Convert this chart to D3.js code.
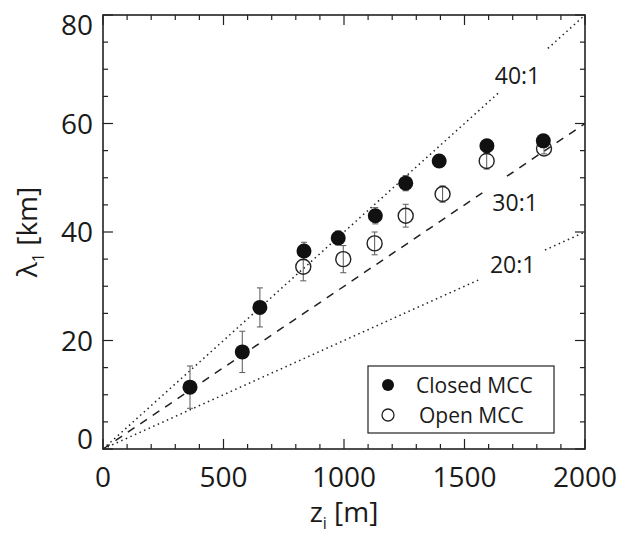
<!DOCTYPE html>
<html>
<head>
<meta charset="utf-8">
<script src="https://cdn.jsdelivr.net/npm/d3@7"></script>
<style>
  body { margin: 0; background: #fff; }
  svg text { font-family: "Open Sans", sans-serif; fill: #1a1a1a; }
</style>
</head>
<body>
<div id="chart"></div>
<script>
// closed MCC: boundary layer depth (m), wavelength (km), error (km)
var closedZ = [361, 578, 651, 834, 976, 1130, 1256, 1395, 1593, 1827];
var closedL = [11.4, 17.9, 26.1, 36.5, 38.9, 43.0, 49.0, 53.1, 55.9, 56.8];
var closedErr = [3.9, 3.8, 3.6, 1.6, 1.3, 1.5, 1.4, 1.0, 1.0, 1.0];

// open MCC
var openZ = [831, 997, 1127, 1256, 1409, 1592, 1830];
var openL = [33.6, 35.0, 37.9, 43.0, 47.0, 53.1, 55.4];
var openErr = [2.6, 2.5, 2.1, 2.1, 1.5, 1.5, 1.0];

// aspect ratio reference lines
var ratios = [40, 30, 20];
var ratioLabels = ["40:1", "30:1", "20:1"];

var xTicks = [0, 500, 1000, 1500, 2000];
var yTicks = [0, 20, 40, 60, 80];

var width = 625, height = 535;
var m = {left: 103, top: 15, right: 40, bottom: 86};

var svg = d3.select("#chart").append("svg")
  .attr("width", width)
  .attr("height", height);

var x = d3.scaleLinear().domain([0, 2000]).range([m.left, width - m.right]);
var y = d3.scaleLinear().domain([0, 80]).range([height - m.bottom, m.top]);

var ink = "#222";

// reference lines (broken where the label sits)
var lineStyle = [
  {dash: "1.5,3.5", gap: [1647, 1846], lab: [1720, 0]},
  {dash: "8,7", gap: [1574, 1676], lab: [1710, 32]},
  {dash: "1.5,3.5", gap: [1564, 1834], lab: [1700, 0]}
];
ratios.forEach(function(r, i) {
  var st = lineStyle[i];
  var segs = [[0, st.gap[0]], [st.gap[1], 2000]];
  segs.forEach(function(s) {
    svg.append("line")
      .attr("x1", x(s[0])).attr("y1", y(s[0] * r / 1000))
      .attr("x2", x(s[1])).attr("y2", y(s[1] * r / 1000))
      .attr("stroke", ink)
      .attr("stroke-width", 1.5)
      .attr("stroke-dasharray", st.dash);
  });
  svg.append("text")
    .attr("x", x(st.lab[0]))
    .attr("y", y(st.lab[0] * r / 1000) + st.lab[1])
    .attr("dy", "0.35em")
    .attr("text-anchor", "middle")
    .style("font-size", "23px")
    .text(ratioLabels[i]);
});

// error bars
function errorBars(zs, ls, es) {
  var g = svg.append("g").attr("stroke", "#666").attr("stroke-width", 1.1);
  zs.forEach(function(z, i) {
    var cx = x(z), y0 = y(ls[i] - es[i]), y1 = y(ls[i] + es[i]);
    g.append("line").attr("x1", cx).attr("x2", cx).attr("y1", y0).attr("y2", y1);
    g.append("line").attr("x1", cx - 3).attr("x2", cx + 3).attr("y1", y0).attr("y2", y0);
    g.append("line").attr("x1", cx - 3).attr("x2", cx + 3).attr("y1", y1).attr("y2", y1);
  });
}
errorBars(openZ, openL, openErr);
errorBars(closedZ, closedL, closedErr);

// markers
svg.selectAll(".open").data(openZ).enter().append("circle")
  .attr("class", "open")
  .attr("cx", function(d) { return x(d); })
  .attr("cy", function(d, i) { return y(openL[i]); })
  .attr("r", 7.5)
  .attr("fill", "none")
  .attr("stroke", ink)
  .attr("stroke-width", 1.4);

svg.selectAll(".closed").data(closedZ).enter().append("circle")
  .attr("class", "closed")
  .attr("cx", function(d) { return x(d); })
  .attr("cy", function(d, i) { return y(closedL[i]); })
  .attr("r", 7.5)
  .attr("fill", "#111");

// axes with inward ticks on all four sides
var xMinor = d3.range(0, 2001, 100);
var yMinor = d3.range(0, 81, 5);
var axG = svg.append("g").attr("stroke", ink).attr("stroke-width", 1.2);
xMinor.forEach(function(v) {
  var len = v % 500 === 0 ? 10 : 5;
  axG.append("line").attr("x1", x(v)).attr("x2", x(v)).attr("y1", y(0)).attr("y2", y(0) - len);
  axG.append("line").attr("x1", x(v)).attr("x2", x(v)).attr("y1", y(80)).attr("y2", y(80) + len);
});
yMinor.forEach(function(v) {
  var len = v % 20 === 0 ? 10 : 5;
  axG.append("line").attr("x1", x(0)).attr("x2", x(0) + len).attr("y1", y(v)).attr("y2", y(v));
  axG.append("line").attr("x1", x(2000)).attr("x2", x(2000) - len).attr("y1", y(v)).attr("y2", y(v));
});
svg.append("rect")
  .attr("x", x(0)).attr("y", y(80))
  .attr("width", x(2000) - x(0)).attr("height", y(0) - y(80))
  .attr("fill", "none").attr("stroke", ink).attr("stroke-width", 1.6);

svg.selectAll(".xl").data(xTicks).enter().append("text")
  .attr("x", function(d) { return x(d); })
  .attr("y", y(0) + 38)
  .attr("text-anchor", "middle")
  .style("font-size", "28px")
  .text(function(d) { return d; });

// end labels are pulled inside the axis range, as in the original
svg.selectAll(".yl").data(yTicks).enter().append("text")
  .attr("x", x(0) - 10)
  .attr("y", function(d) {
    var off = d === 80 ? 10 : (d === 0 ? -10 : 0);
    return y(d) + off;
  })
  .attr("dy", "0.36em")
  .attr("text-anchor", "end")
  .style("font-size", "28px")
  .text(function(d) { return d; });

// axis titles
var xt = svg.append("text")
  .attr("x", (x(0) + x(2000)) / 2)
  .attr("y", 522)
  .attr("text-anchor", "middle")
  .style("font-size", "28px");
xt.append("tspan").text("z");
xt.append("tspan").attr("dy", 7).style("font-size", "16px").text("i");
xt.append("tspan").attr("dy", -7).text(" [m]");

var yt = svg.append("text")
  .attr("transform", "translate(37," + ((y(0) + y(80)) / 2) + ") rotate(-90)")
  .attr("text-anchor", "middle")
  .style("font-size", "28px");
yt.append("tspan").text("λ");
yt.append("tspan").attr("dy", 7).style("font-size", "16px").text("1");
yt.append("tspan").attr("dy", -7).text(" [km]");

// legend
var lg = svg.append("g");
lg.append("rect")
  .attr("x", 368).attr("y", 366).attr("width", 186).attr("height", 67)
  .attr("fill", "#fff").attr("stroke", ink).attr("stroke-width", 1.2);
lg.append("circle").attr("cx", 388).attr("cy", 385).attr("r", 6).attr("fill", "#111");
lg.append("circle").attr("cx", 388).attr("cy", 415).attr("r", 6)
  .attr("fill", "none").attr("stroke", ink).attr("stroke-width", 1.3);
lg.append("text").attr("x", 416).attr("y", 385).attr("dy", "0.36em")
  .style("font-size", "21px").text("Closed MCC");
lg.append("text").attr("x", 419).attr("y", 415).attr("dy", "0.36em")
  .style("font-size", "21px").text("Open MCC");
</script>
</body>
</html>
